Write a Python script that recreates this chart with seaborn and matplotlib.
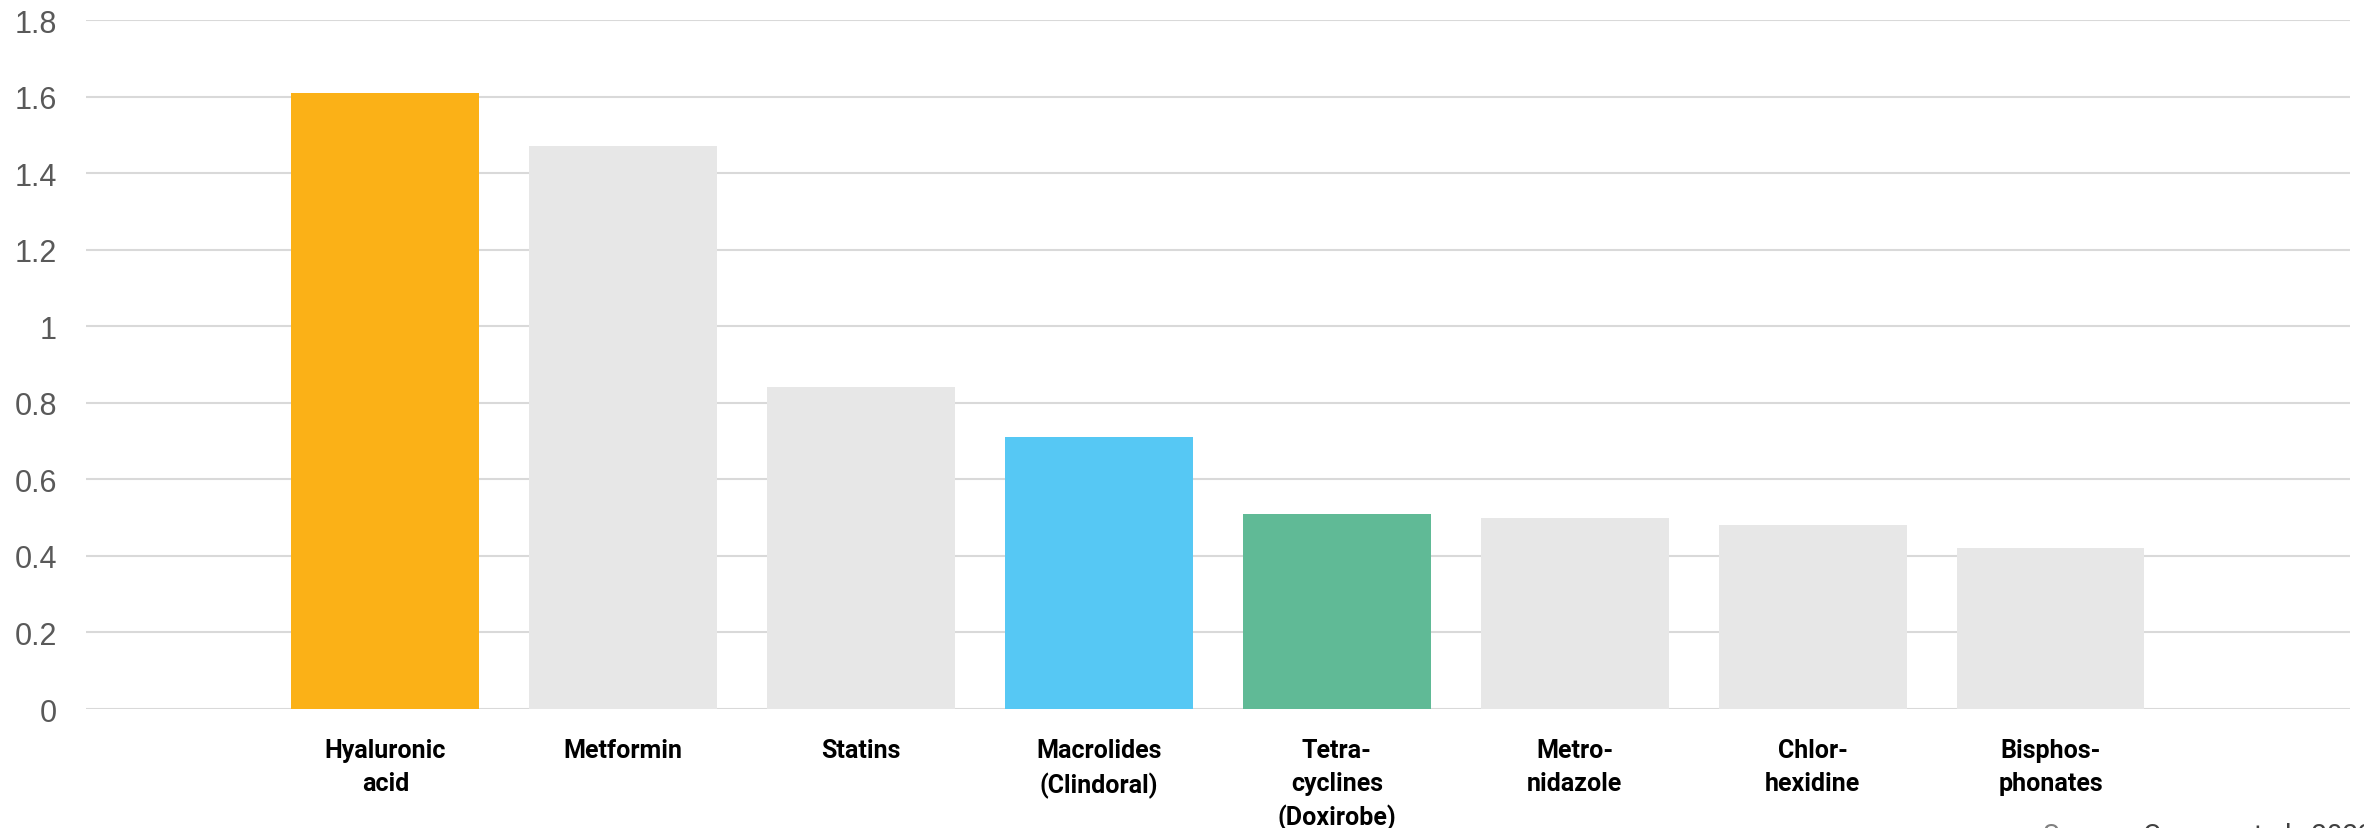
import matplotlib
matplotlib.use("Agg")
import matplotlib.pyplot as plt
import seaborn as sns
import pandas as pd

categories = [
    "Hyaluronic\nacid",
    "Metformin",
    "Statins",
    "Macrolides\n(Clindoral)",
    "Tetra-\ncyclines\n(Doxirobe)",
    "Metro-\nnidazole",
    "Chlor-\nhexidine",
    "Bisphos-\nphonates",
]
values = [1.61, 1.47, 0.84, 0.71, 0.51, 0.50, 0.48, 0.42]
bar_colors = ["#FBB117", "#E7E7E7", "#E7E7E7", "#56C8F4",
              "#60BA96", "#E7E7E7", "#E7E7E7", "#E7E7E7"]
y_ticks = [0, 0.2, 0.4, 0.6, 0.8, 1.0, 1.2, 1.4, 1.6, 1.8]
y_tick_labels = ["0", "0.2", "0.4", "0.6", "0.8", "1", "1.2", "1.4", "1.6", "1.8"]
source_label = "Source:"
source_ref = "Cooper et al., 2023"

sns.set_theme(style="white")
plt.rcParams["font.family"] = ["Liberation Sans", "DejaVu Sans"]

df = pd.DataFrame({"drug": categories, "value": values})

fig = plt.figure(figsize=(23.64, 8.29), dpi=100)
ax = fig.add_axes([86 / 2364, 1 - 710 / 829, (2350 - 86) / 2364, (710 - 21) / 829])

sns.barplot(data=df, x="drug", y="value", hue="drug", palette=bar_colors,
            saturation=1, width=0.79, legend=False, ax=ax, linewidth=0)

ax.set_xlim(-1.258, 8.259)
ax.set_ylim(0, 1.8)
ax.set_yticks(y_ticks)
ax.set_yticklabels(y_tick_labels)
ax.yaxis.grid(True, color="#D9D9D9", linewidth=1.5)
ax.xaxis.grid(False)
ax.set_axisbelow(True)
for s in ax.spines.values():
    s.set_visible(False)

ax.set_xlabel("")
ax.set_ylabel("")
ax.tick_params(axis="y", length=0, pad=21, labelsize=22, labelcolor="#595959")
ax.tick_params(axis="x", length=0, pad=21)
for lbl in ax.get_xticklabels():
    lbl.set_fontfamily(["Roboto", "DejaVu Sans"])
    lbl.set_fontweight("bold")
    lbl.set_fontsize(18)
    lbl.set_color("#000000")
    lbl.set_linespacing(1.45)

# source note along the bottom edge
t1 = fig.text(2043 / 2364, 1 - 823 / 829, source_label + " ", ha="left", va="top",
              fontsize=20, color="#808080", family=["Roboto", "DejaVu Sans"])
fig.canvas.draw()
bb = t1.get_window_extent()
fig.text(bb.x1 / fig.bbox.width, 1 - 823 / 829, source_ref, ha="left", va="top",
         fontsize=20, color="#404040", family=["Roboto", "DejaVu Sans"])

fig.savefig("out.png", dpi=100)
